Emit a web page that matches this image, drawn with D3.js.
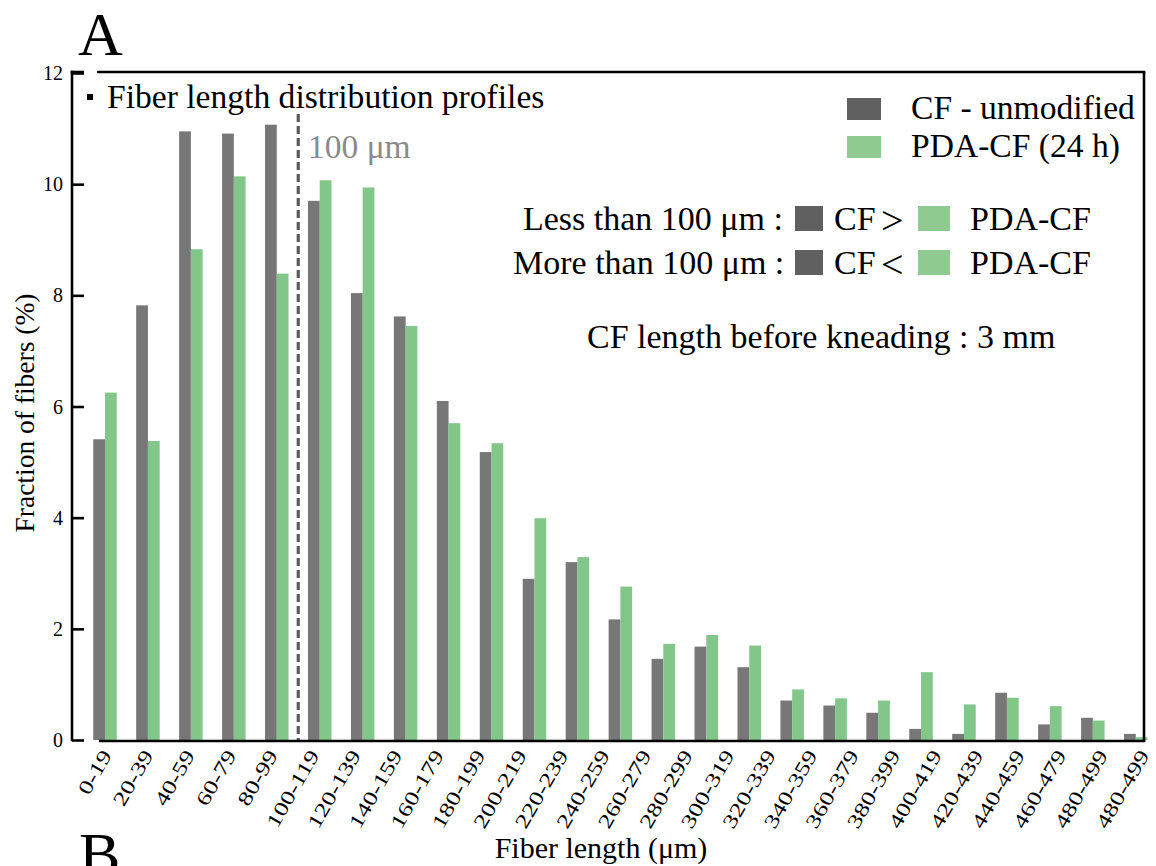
<!DOCTYPE html>
<html>
<head>
<meta charset="utf-8">
<script src="https://cdn.jsdelivr.net/npm/d3@7"></script>
<style>
  html, body { margin: 0; padding: 0; background: #fff; }
  svg { display: block; font-family: "Liberation Serif", "Times New Roman", serif; }
</style>
</head>
<body>
<svg id="chart" width="1156" height="866"></svg>
<script>
// ---- data ----
const tickLabels = ["0-19","20-39","40-59","60-79","80-99","100-119","120-139","140-159","160-179","180-199",
  "200-219","220-239","240-259","260-279","280-299","300-319","320-339","340-359","360-379","380-399",
  "400-419","420-439","440-459","460-479","480-499","480-499"];
const seriesNames = ["CF - unmodified", "PDA-CF (24 h)"];
const cfUnmodified = [5.41, 7.82, 10.95, 10.91, 11.07, 9.70, 8.04, 7.62, 6.10, 5.18, 2.90, 3.20, 2.17, 1.46,
  1.68, 1.31, 0.71, 0.62, 0.49, 0.20, 0.11, 0.85, 0.28, 0.40, 0.11];
const pdaCF = [6.25, 5.38, 8.83, 10.14, 8.39, 10.07, 9.94, 7.45, 5.70, 5.34, 3.99, 3.29, 2.76, 1.73,
  1.89, 1.70, 0.91, 0.75, 0.71, 1.22, 0.64, 0.76, 0.61, 0.35, 0.05];
const yTicks = [0, 2, 4, 6, 8, 10, 12];
const thresholdLabel = "100 μm";

(function () {
// ---- layout ----
const svg = d3.select("#chart");
const pLeft = 72, pRight = 1144, pTop = 72, pBottom = 740;
const barColors = ["#777777", "#82c68a"];
const legendColors = ["#606060", "#8fca90"];

const y = d3.scaleLinear().domain([0, 12]).range([pBottom, pTop + 1]);
const step = 42.95;
const xGroup = d3.scaleBand().domain(d3.range(cfUnmodified.length))
  .range([83.5, 83.5 + step * cfUnmodified.length]).paddingInner(0.453).paddingOuter(0.2265);
const xSub = d3.scaleBand().domain([0, 1]).range([0, xGroup.bandwidth()]);
const xLabel = d3.scalePoint().domain(d3.range(tickLabels.length)).range([112, 112 + 41.5 * (tickLabels.length - 1)]);

// bars
const rows = cfUnmodified.map((v, i) => ({ i, vals: [v, pdaCF[i]] }));
const g = svg.append("g");
g.selectAll("g.grp").data(rows).join("g").attr("class", "grp")
  .attr("transform", d => `translate(${xGroup(d.i)},0)`)
  .selectAll("rect").data(d => d.vals.map((v, k) => ({ v, k }))).join("rect")
  .attr("x", d => xSub(d.k))
  .attr("width", xSub.bandwidth())
  .attr("y", d => y(d.v))
  .attr("height", d => y(0) - y(d.v))
  .attr("fill", d => barColors[d.k]);

// threshold dashed line (between 80-99 and 100-119 groups)
const xThr = (xGroup(4) + xGroup.bandwidth() + xGroup(5)) / 2;
svg.append("line").attr("x1", xThr).attr("x2", xThr).attr("y1", 114).attr("y2", pBottom)
  .attr("stroke", "#5a5a5a").attr("stroke-width", 3.2).attr("stroke-dasharray", "8,4");
svg.append("text").attr("x", 308).attr("y", 158).attr("font-size", 33.5).attr("fill", "#8a8a8a").text(thresholdLabel);

// frame
const frame = svg.append("g").attr("stroke", "#000").attr("stroke-width", 2.6).attr("fill", "none");
frame.append("line").attr("x1", pLeft).attr("x2", pLeft).attr("y1", pTop - 1.3).attr("y2", pBottom + 1.3);
frame.append("line").attr("x1", pLeft - 1.3).attr("x2", 84).attr("y1", pTop).attr("y2", pTop);
frame.append("line").attr("x1", 97).attr("x2", pRight + 1.3).attr("y1", pTop).attr("y2", pTop);
frame.append("line").attr("x1", pRight).attr("x2", pRight).attr("y1", pTop).attr("y2", pBottom + 1.3);
frame.append("line").attr("x1", 99).attr("x2", pRight + 1.3).attr("y1", pBottom + 1).attr("y2", pBottom + 1);

// y axis ticks (inward) and labels
const yAxis = d3.axisRight(y).tickValues(yTicks).tickSize(12).tickFormat("");
const ya = svg.append("g").attr("transform", `translate(${pLeft},0)`).call(yAxis);
ya.select(".domain").remove();
ya.selectAll(".tick line").attr("stroke", "#000").attr("stroke-width", 2.6);
svg.append("g").selectAll("text").data(yTicks).join("text")
  .attr("x", 63).attr("y", d => y(d)).attr("dy", "0.35em").attr("text-anchor", "end")
  .attr("font-size", 20).text(d => d);

// x axis labels
const xa = svg.append("g").attr("transform", `translate(0,${pBottom})`)
  .call(d3.axisBottom(xLabel).tickSize(0).tickFormat(i => tickLabels[i]));
xa.select(".domain").remove();
xa.selectAll(".tick text")
  .attr("font-family", "Liberation Serif, serif").attr("font-size", 20).attr("fill", "#000")
  .attr("text-anchor", "end").attr("x", 0).attr("y", 0).attr("dy", 0)
  .attr("transform", "translate(0,15) rotate(-60) scale(1.3,1)");

// axis titles
svg.append("text").attr("transform", `translate(34,413) rotate(-90)`).attr("text-anchor", "middle")
  .attr("font-size", 27.5).text("Fraction of fibers (%)");
svg.append("text").attr("x", 601).attr("y", 858).attr("text-anchor", "middle")
  .attr("font-size", 30).text("Fiber length (μm)");

// panel letters
svg.append("text").attr("x", 78).attr("y", 55).attr("font-size", 62).text("A");
svg.append("text").attr("x", 79).attr("y", 875).attr("font-size", 62).text("B");

// title
svg.append("rect").attr("x", 87).attr("y", 94).attr("width", 6).attr("height", 6).attr("fill", "#000");
svg.append("text").attr("x", 107).attr("y", 108).attr("font-size", 33.6).text("Fiber length distribution profiles");

// legend
const leg = svg.append("g");
seriesNames.forEach((s, k) => {
  leg.append("rect").attr("x", 847).attr("y", 98 + k * 38).attr("width", 34).attr("height", 22).attr("fill", legendColors[k]);
  leg.append("text").attr("x", 911).attr("y", 119 + k * 38).attr("font-size", 33.6).text(s);
});

// comparison annotations
const notes = [
  { lead: "Less than 100 μm :", x: 523, yb: 230, sym: ">" },
  { lead: "More than 100 μm :", x: 513, yb: 274, sym: "<" }
];
notes.forEach(n => {
  svg.append("text").attr("x", n.x).attr("y", n.yb).attr("font-size", 34).text(n.lead);
  svg.append("rect").attr("x", 795).attr("y", n.yb - 24).attr("width", 28).attr("height", 25).attr("fill", legendColors[0]);
  svg.append("text").attr("x", 834).attr("y", n.yb).attr("font-size", 34).text("CF");
  svg.append("text").attr("x", 881).attr("y", n.yb + 4).attr("font-size", 40).text(n.sym);
  svg.append("rect").attr("x", 918).attr("y", n.yb - 24).attr("width", 32).attr("height", 25).attr("fill", legendColors[1]);
  svg.append("text").attr("x", 970).attr("y", n.yb).attr("font-size", 34).text("PDA-CF");
});
svg.append("text").attr("x", 587).attr("y", 348).attr("font-size", 34).text("CF length before kneading : 3 mm");
})();
</script>
</body>
</html>
